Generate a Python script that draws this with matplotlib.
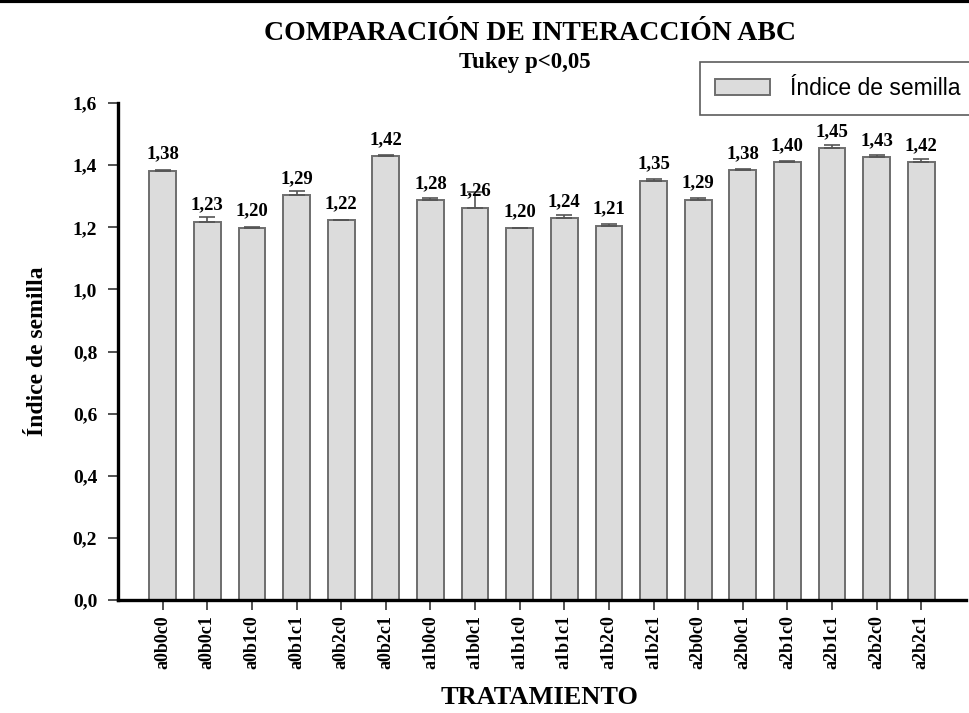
import matplotlib.pyplot as plt
from matplotlib.lines import Line2D

treatments = ["a0b0c0", "a0b0c1", "a0b1c0", "a0b1c1", "a0b2c0", "a0b2c1",
              "a1b0c0", "a1b0c1", "a1b1c0", "a1b1c1", "a1b2c0", "a1b2c1",
              "a2b0c0", "a2b0c1", "a2b1c0", "a2b1c1", "a2b2c0", "a2b2c1"]
means = [1.381, 1.218, 1.198, 1.303, 1.222, 1.429,
         1.287, 1.263, 1.197, 1.229, 1.204, 1.350,
         1.288, 1.384, 1.409, 1.454, 1.425, 1.409]
errors = [0.003, 0.014, 0.002, 0.013, 0.003, 0.003,
          0.006, 0.050, 0.002, 0.010, 0.008, 0.007,
          0.006, 0.003, 0.005, 0.011, 0.008, 0.010]
value_labels = ["1,38", "1,23", "1,20", "1,29", "1,22", "1,42",
                "1,28", "1,26", "1,20", "1,24", "1,21", "1,35",
                "1,29", "1,38", "1,40", "1,45", "1,43", "1,42"]
y_ticks = [0.0, 0.2, 0.4, 0.6, 0.8, 1.0, 1.2, 1.4, 1.6]

serif = "Liberation Serif"
sans = "Liberation Sans"

fig = plt.figure(figsize=(9.69, 7.13), dpi=100)
ax = fig.add_axes([0.1218, 0.1585, 0.875, 0.697])

x = range(len(treatments))
bars = ax.bar(x, means, width=0.6, color="#dcdcdc", edgecolor="#6e6e6e",
              linewidth=1.4, label="Índice de semilla", zorder=2)
ax.errorbar(x, means, yerr=[[0] * len(errors), errors], fmt="none",
            ecolor="#555555", elinewidth=1.2, capsize=5.5, capthick=1.2, zorder=3)

# etiquetas de valor sobre cada barra
for i, txt in enumerate(value_labels):
    ax.annotate(txt, (i, means[i]), xytext=(0, 6), textcoords="offset points",
                ha="center", va="bottom", fontfamily=serif, fontweight="bold",
                fontsize=13.5)

ax.set_xlim(-1, 18)
ax.set_ylim(0, 1.6)
ax.set_yticks(y_ticks)
ax.set_yticklabels([f"{v:.1f}".replace(".", ",") for v in y_ticks],
                   fontfamily=serif, fontweight="bold", fontsize=14)
ax.set_xticks(list(x))
ax.set_xticklabels(treatments, rotation=90, fontfamily=serif,
                   fontweight="bold", fontsize=13)
ax.tick_params(axis="both", direction="out", length=7, width=1.2,
               color="#333333")
ax.tick_params(axis="y", pad=8)
ax.tick_params(axis="x", pad=4)

for side in ["top", "right"]:
    ax.spines[side].set_visible(False)
for side in ["left", "bottom"]:
    ax.spines[side].set_linewidth(2.4)
    ax.spines[side].set_color("black")

ax.set_ylabel("Índice de semilla", fontfamily=serif, fontweight="bold",
              fontsize=17, labelpad=18)

fig.text(0.557, 0.012, "TRATAMIENTO", ha="center", va="baseline",
         fontfamily=serif, fontweight="bold", fontsize=19)
fig.text(0.547, 0.944, "COMPARACIÓN DE INTERACCIÓN ABC", ha="center", va="baseline",
         fontfamily=serif, fontweight="bold", fontsize=20)
fig.text(0.542, 0.905, "Tukey p<0,05", ha="center", va="baseline",
         fontfamily=serif, fontweight="bold", fontsize=16.5)

leg = fig.legend(loc="upper left", bbox_to_anchor=(0.722, 0.913),
                 prop={"family": sans, "size": 16.5}, frameon=True,
                 fancybox=False, edgecolor="#333333", borderpad=0.65,
                 handlelength=2.4, handleheight=0.75, handletextpad=0.9,
                 borderaxespad=0)
leg.get_frame().set_linewidth(1.2)

fig.add_artist(Line2D([0, 1], [0.998, 0.998], color="black", linewidth=3,
                      transform=fig.transFigure))

fig.savefig("out.png", dpi=100)
